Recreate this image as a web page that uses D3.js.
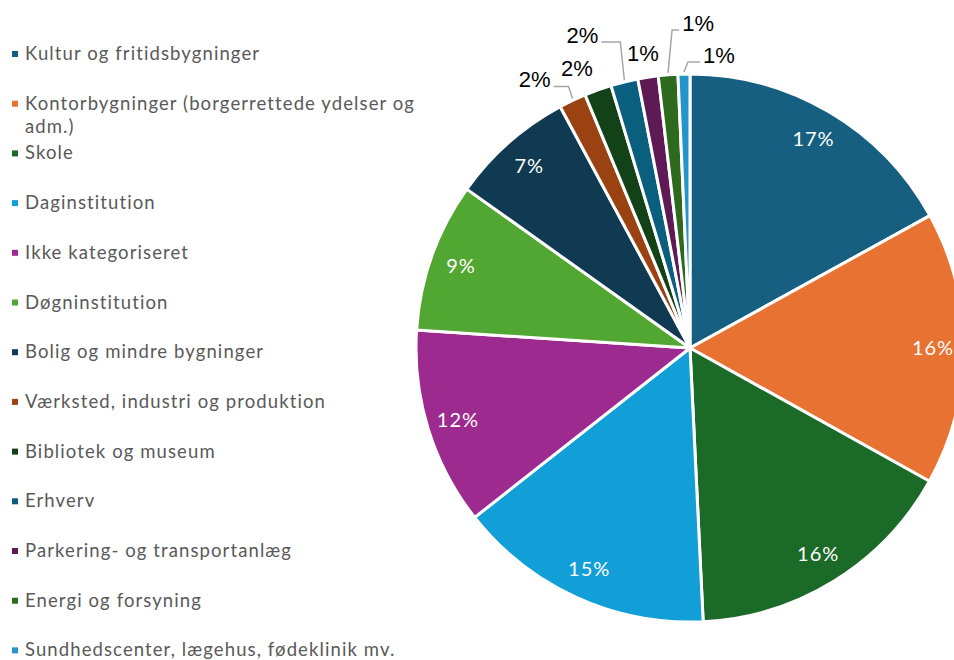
<!DOCTYPE html>
<html>
<head>
<meta charset="utf-8">
<script src="https://cdn.jsdelivr.net/npm/d3@7"></script>
<style>
  html, body { margin: 0; padding: 0; background: #fff; }
  svg { display: block; }
</style>
</head>
<body>
<div id="chart"></div>
<script>
(function () {
  // categories in drawing order (clockwise from 12 o'clock)
  const categories = [
    'Kultur og fritidsbygninger',
    'Kontorbygninger (borgerrettede ydelser og adm.)',
    'Skole',
    'Daginstitution',
    'Ikke kategoriseret',
    'Døgninstitution',
    'Bolig og mindre bygninger',
    'Værksted, industri og produktion',
    'Bibliotek og museum',
    'Erhverv',
    'Parkering- og transportanlæg',
    'Energi og forsyning',
    'Sundhedscenter, lægehus, fødeklinik mv.'
  ];

  // share of total, in percent
  const shares = [16.97, 16.1, 16.15, 15.15, 11.65, 8.8, 7.3, 1.6, 1.6, 1.6, 1.2, 1.15, 0.7];

  // labels shown on the slices
  const pctLabels = ['17%', '16%', '16%', '15%', '12%', '9%', '7%', '2%', '2%', '2%', '1%', '1%', '1%'];

  const colors = ['#175f80', '#e87232', '#1b6a27', '#129ed6', '#9d2a8e', '#52a733',
                  '#0f3a52', '#9b4213', '#134219', '#0b5f7e', '#5d1a54', '#2e6a1e', '#2395ca'];

  const width = 954, height = 660;
  const cx = 690, cy = 348, radius = 274;

  // small slices get their label outside, nudged from the slice edge
  const outsideNudge = {
    7: [-38, -21], 8: [-21, -22], 9: [-42, -47],
    10: [-5, -24], 11: [30, -52], 12: [35, -19]
  };

  const data = categories.map((c, i) => ({ name: c, value: shares[i], label: pctLabels[i], color: colors[i], i }));

  const svg = d3.select('#chart')
    .append('svg')
    .attr('width', width)
    .attr('height', height);

  // ---- legend
  const legend = svg.append('g').attr('class', 'legend');
  const rowStep = 49.7;

  data.forEach((d, i) => {
    const y = 60 + i * rowStep;
    legend.append('rect')
      .attr('x', 12)
      .attr('y', y - 9)
      .attr('width', 6)
      .attr('height', 6)
      .attr('fill', d.color);

    const t = legend.append('text')
      .attr('x', 25)
      .attr('y', y)
      .attr('font-family', 'Lato, sans-serif')
      .attr('font-size', 18.5)
      .attr('letter-spacing', 1.1)
      .attr('fill', '#595959');
    wrap(t, d.name, 412, 23);
  });

  function wrap(t, str, maxW, lh) {
    const words = str.split(' ');
    let line = [];
    let tspan = t.append('tspan').attr('x', t.attr('x')).attr('dy', 0);
    words.forEach(w => {
      line.push(w);
      tspan.text(line.join(' '));
      if (tspan.node().getComputedTextLength() > maxW && line.length > 1) {
        line.pop();
        tspan.text(line.join(' '));
        line = [w];
        tspan = t.append('tspan').attr('x', t.attr('x')).attr('dy', lh).text(w);
      }
    });
  }

  // ---- pie
  const pie = d3.pie().value(d => d.value).sort(null);
  const arcs = pie(data);

  const arc = d3.arc().innerRadius(0).outerRadius(radius);
  const labelArc = d3.arc().innerRadius(243).outerRadius(243);
  const edgeArc = d3.arc().innerRadius(radius).outerRadius(radius);

  const g = svg.append('g').attr('transform', `translate(${cx}, ${cy})`);

  g.selectAll('path.slice')
    .data(arcs)
    .enter()
    .append('path')
    .attr('class', 'slice')
    .attr('d', arc)
    .attr('fill', d => d.data.color)
    .attr('stroke', '#fff')
    .attr('stroke-width', 3)
    .attr('stroke-linejoin', 'round');

  // inside labels
  g.selectAll('text.inside')
    .data(arcs.filter(d => !outsideNudge[d.index]))
    .enter()
    .append('text')
    .attr('class', 'inside')
    .attr('transform', d => `translate(${labelArc.centroid(d)})`)
    .attr('text-anchor', 'middle')
    .attr('dy', '0.35em')
    .attr('font-family', 'Lato, sans-serif')
    .attr('font-size', 20)
    .attr('letter-spacing', 1)
    .attr('fill', '#fff')
    .text(d => d.data.label);

  // outside labels + leader lines
  const outside = arcs.filter(d => outsideNudge[d.index]);
  outside.forEach(d => {
    const [ex, ey] = edgeArc.centroid(d);
    const [nx, ny] = outsideNudge[d.index];
    const tx = ex + nx, ty = ey + ny;
    const far = Math.hypot(nx, ny) > 35;

    if (far) {
      const halfW = 17;
      const side = nx < 0 ? 1 : -1; // line leaves from the side facing the slice
      const sx = tx + side * (halfW + 2);
      const ly = ty + 7;
      const kx = ex + side * -4;
      g.append('polyline')
        .attr('points', `${sx},${ly} ${kx},${ly} ${ex},${ey - 2}`)
        .attr('fill', 'none')
        .attr('stroke', '#a6a6a6')
        .attr('stroke-width', 1.5);
    }

    g.append('text')
      .attr('x', tx)
      .attr('y', ty)
      .attr('text-anchor', 'middle')
      .attr('dy', '0.35em')
      .attr('font-family', 'Liberation Sans, Arial, sans-serif')
      .attr('font-size', 22)
      .attr('fill', '#000')
      .text(d.data.label);
  });
})();
</script>
</body>
</html>
